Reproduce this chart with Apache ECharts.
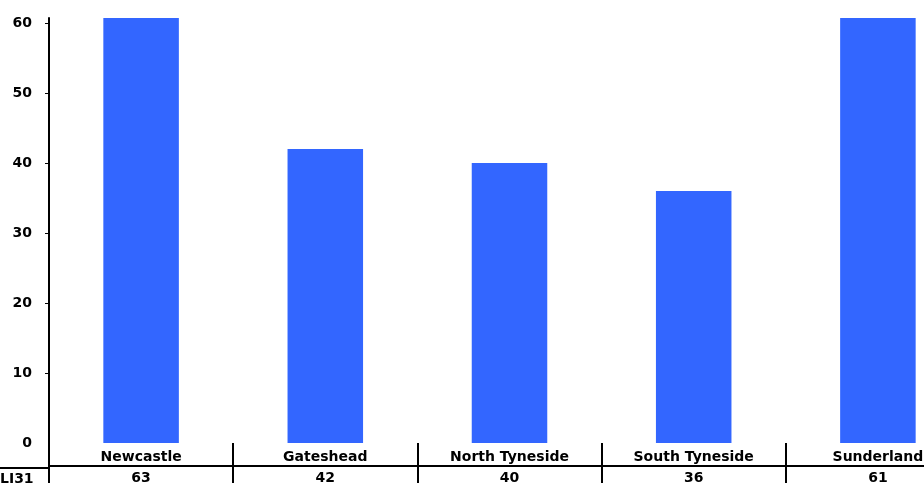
<!DOCTYPE html>
<html>
<head>
<meta charset="utf-8">
<script src="https://cdn.jsdelivr.net/npm/echarts@6/dist/echarts.min.js"></script>
<style>
html,body{margin:0;padding:0;background:#fff;overflow:hidden;width:924px;height:485px;}
#chart{width:970px;height:485px;}
</style>
</head>
<body>
<div id="chart"></div>
<script>
var categories = ['Newcastle', 'Gateshead', 'North Tyneside', 'South Tyneside', 'Sunderland'];
var values = [63, 42, 40, 36, 61];
var rowLabel = 'LI31';
var yTicks = [0, 10, 20, 30, 40, 50, 60];

var FONT = 'DejaVu Sans';
var chart = echarts.init(document.getElementById('chart'), null, {renderer: 'canvas'});
chart.setOption({
  backgroundColor: '#ffffff',
  animation: false,
  grid: {left: 49, top: 18, bottom: 40, right: 0, containLabel: false},
  xAxis: [{
    type: 'category',
    data: categories,
    position: 'bottom',
    axisLine: {show: false},
    axisTick: {show: true, length: 40, lineStyle: {color: '#000', width: 2}},
    axisLabel: {margin: 7, color: '#000', fontFamily: FONT, fontWeight: 'bold', fontSize: 14, interval: 0}
  }, {
    type: 'category',
    data: values.map(String),
    position: 'bottom',
    offset: 23,
    axisLine: {show: true, lineStyle: {color: '#000', width: 2}},
    axisTick: {show: false},
    axisLabel: {margin: 5, color: '#000', fontFamily: FONT, fontWeight: 'bold', fontSize: 14, interval: 0}
  }],
  yAxis: {
    type: 'value',
    min: 0,
    max: 60.7,
    interval: 10,
    splitLine: {show: false},
    axisLine: {show: true, lineStyle: {color: '#000', width: 2}},
    axisTick: {show: true, length: 4, lineStyle: {color: '#000', width: 1},
      customValues: yTicks.slice(1)},
    axisLabel: {margin: 17, color: '#000', fontFamily: FONT, fontWeight: 'bold', fontSize: 14,
      customValues: yTicks}
  },
  series: [{
    type: 'bar',
    data: values,
    barWidth: '41%',
    clip: true,
    itemStyle: {color: '#3366FF'}
  }],
  graphic: [{
    type: 'line',
    shape: {x1: 0, y1: 468, x2: 49, y2: 468},
    style: {stroke: '#000', lineWidth: 2}
  }, {
    type: 'text',
    left: 0,
    top: 472,
    style: {text: rowLabel, fill: '#000', font: 'bold 14px "DejaVu Sans"'}
  }]
});
</script>
</body>
</html>
